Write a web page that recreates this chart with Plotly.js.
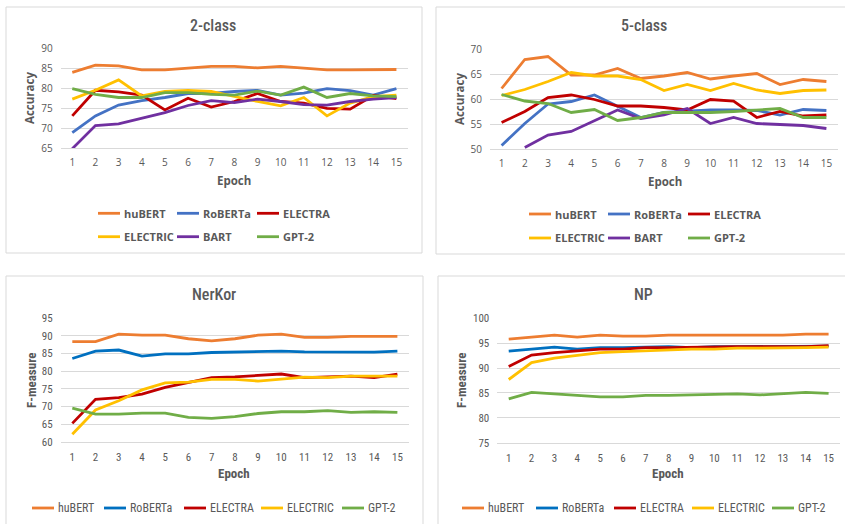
<!DOCTYPE html>
<html>
<head>
<meta charset="utf-8">
<script src="https://cdn.plot.ly/plotly-3.0.1.min.js"></script>
<style>
html,body{margin:0;padding:0;background:#fff;}
#chart{width:845px;height:524px;}
</style>
</head>
<body>
<div id="chart"></div>
<script>
// ---------- data ----------
const epochs = [1,2,3,4,5,6,7,8,9,10,11,12,13,14,15];
const models = ["huBERT","RoBERTa","ELECTRA","ELECTRIC","BART","GPT-2"];

// 2-class accuracy
const c2_huBERT   = [84.0,85.8,85.6,84.6,84.6,85.1,85.5,85.5,85.1,85.5,85.1,84.6,84.6,84.6,84.7];
const c2_RoBERTa  = [68.9,73.1,75.8,76.9,77.7,78.7,78.7,79.2,79.5,78.3,78.8,79.9,79.4,78.3,79.9];
const c2_ELECTRA  = [73.1,79.5,79.1,78.3,74.6,77.5,75.3,76.7,78.7,76.7,76.3,75.0,74.8,78.2,77.4];
const c2_ELECTRIC = [77.3,79.5,82.1,78.1,79.2,79.5,79.2,77.9,76.7,75.6,77.7,73.1,76.3,77.9,78.3];
const c2_BART     = [64.9,70.7,71.1,72.5,73.9,75.7,76.9,76.4,77.3,76.7,75.9,75.8,76.7,77.3,77.7];
const c2_GPT2     = [79.9,78.5,77.7,77.7,78.9,78.9,78.5,78.3,79.3,78.3,80.3,77.7,78.7,78.1,77.9];

// 5-class accuracy
const c5_huBERT   = [62.1,67.9,68.5,64.8,64.8,66.1,64.1,64.6,65.3,64.0,64.6,65.1,62.9,63.9,63.5];
const c5_RoBERTa  = [50.7,55.1,59.0,59.5,60.8,58.5,56.3,57.3,57.5,57.8,57.8,57.7,56.8,57.9,57.7];
const c5_ELECTRA  = [55.3,57.5,60.3,60.8,59.9,58.6,58.6,58.3,57.8,59.9,59.6,56.3,57.5,56.6,56.8];
const c5_ELECTRIC = [60.7,61.9,63.5,65.3,64.6,64.6,63.9,61.7,62.9,61.7,63.1,61.8,61.1,61.7,61.8];
const c5_BART     = [null,50.3,52.8,53.5,55.7,57.8,56.1,56.8,58.1,55.1,56.3,55.1,54.9,54.7,54.1];
const c5_GPT2     = [60.9,59.6,59.1,57.3,57.9,55.7,56.3,57.3,57.3,57.3,57.5,57.8,58.1,56.3,56.3];

// NerKor F-measure
const nk_huBERT   = [88.4,88.4,90.5,90.2,90.2,89.2,88.6,89.2,90.2,90.5,89.6,89.6,89.9,89.9,89.9];
const nk_RoBERTa  = [83.6,85.7,86.0,84.3,84.9,84.9,85.3,85.4,85.7,85.7,85.5,85.5,85.3,85.4,85.7];
const nk_ELECTRA  = [65.2,72.0,72.5,73.5,75.4,76.9,78.2,78.4,78.8,79.2,78.2,78.4,78.6,78.2,79.2];
const nk_ELECTRIC = [62.1,69.0,71.6,74.7,76.7,76.9,77.7,77.7,77.2,77.7,78.3,78.2,78.6,78.6,78.6];
const nk_GPT2     = [69.5,67.8,67.8,68.1,68.1,66.9,66.6,67.1,68.0,68.5,68.5,68.8,68.3,68.5,68.3];

// NP F-measure
const np_huBERT   = [95.8,96.2,96.6,96.2,96.6,96.4,96.4,96.6,96.6,96.6,96.6,96.6,96.6,96.8,96.8];
const np_RoBERTa  = [93.4,93.8,94.2,93.8,94.1,94.1,94.2,94.3,94.1,94.3,94.3,94.3,94.3,94.3,94.4];
const np_ELECTRA  = [90.3,92.6,93.1,93.5,93.8,93.8,94.1,94.1,94.2,94.2,94.3,94.3,94.3,94.3,94.5];
const np_ELECTRIC = [87.7,91.1,92.0,92.5,93.1,93.3,93.5,93.6,93.8,93.8,94.0,94.0,94.0,94.1,94.2];
const np_GPT2     = [83.8,85.1,84.8,84.5,84.2,84.2,84.5,84.5,84.6,84.8,84.8,84.6,84.9,85.1,84.9];

const panelTitles = ["2-class","5-class","NerKor","NP"];
const yTitles = ["Accuracy","Accuracy","F-measure","F-measure"];
const xTitle = "Epoch";

// ---------- styling ----------
const W = 845, H = 524;
const colTop = {"huBERT":"#ED7D31","RoBERTa":"#4472C4","ELECTRA":"#C00000","ELECTRIC":"#FFC000","BART":"#7030A0","GPT-2":"#70AD47"};
const colBot = {"huBERT":"#ED7D31","RoBERTa":"#0070C0","ELECTRA":"#C00000","ELECTRIC":"#FFC000","GPT-2":"#70AD47"};
const TXT = "#595959", GRID = "#D9D9D9";
const NARROW = "'Liberation Sans Narrow', 'Roboto Condensed', Roboto, sans-serif";
const WIDE = "'Open Sans', 'DejaVu Sans', sans-serif";

const px = x => x / W;
const py = y => 1 - y / H;

// panels: pixel boxes of plot areas
const panels = [
  {x0:60.7, x1:408,  y0:48.3,  y1:148.3, range:[65,90],  series:[c2_huBERT,c2_RoBERTa,c2_ELECTRA,c2_ELECTRIC,c2_BART,c2_GPT2], names:models, cols:colTop},
  {x0:490,  x1:838,  y0:49,    y1:149,   range:[50,70],  series:[c5_huBERT,c5_RoBERTa,c5_ELECTRA,c5_ELECTRIC,c5_BART,c5_GPT2], names:models, cols:colTop},
  {x0:60.7, x1:409,  y0:318.3, y1:441.7, range:[60,95],  series:[nk_huBERT,nk_RoBERTa,nk_ELECTRA,nk_ELECTRIC,nk_GPT2], names:["huBERT","RoBERTa","ELECTRA","ELECTRIC","GPT-2"], cols:colBot},
  {x0:497.3,x1:840,  y0:318.3, y1:442.7, range:[75,100], series:[np_huBERT,np_RoBERTa,np_ELECTRA,np_ELECTRIC,np_GPT2], names:["huBERT","RoBERTa","ELECTRA","ELECTRIC","GPT-2"], cols:colBot}
];

const traces = [];
const layout = {
  width: W, height: H,
  margin: {l:0, r:0, t:0, b:0},
  paper_bgcolor: "#fff", plot_bgcolor: "#fff",
  showlegend: false,
  shapes: [], annotations: []
};

panels.forEach((p, i) => {
  const k = i === 0 ? "" : String(i + 1);
  const top = i < 2;
  const tickFont = {family: top ? WIDE : NARROW, size: top ? 10 : 11, color: TXT};
  layout["xaxis" + k] = {
    domain: [px(p.x0), px(p.x1)], anchor: "y" + k,
    range: [0.5, 15.5], tickmode: "array", tickvals: epochs, ticktext: epochs.map(String),
    showgrid: false, zeroline: false, showline: true, linecolor: GRID, linewidth: 1,
    ticks: "", ticklabelstandoff: 5, tickfont: tickFont, fixedrange: true
  };
  layout["yaxis" + k] = {
    domain: [py(p.y1), py(p.y0)], anchor: "x" + k,
    range: p.range, dtick: 5, tick0: 0,
    showgrid: true, gridcolor: GRID, gridwidth: 1, zeroline: false, showline: false,
    ticks: "", ticklabelstandoff: 7, tickfont: tickFont, fixedrange: true
  };
  p.series.forEach((s, j) => {
    traces.push({
      type: "scatter", mode: "lines", x: epochs, y: s, name: p.names[j],
      xaxis: "x" + k, yaxis: "y" + k,
      line: {color: p.cols[p.names[j]], width: 2.8}, connectgaps: false,
      hoverinfo: "x+y+name"
    });
  });
});

// panel frames
const frames = [[6,7,422,253],[436,7,850,254],[6,276,423,530],[438,276,850,530]];
frames.forEach(f => {
  layout.shapes.push({type:"rect", xref:"paper", yref:"paper", x0:px(f[0]), x1:px(f[2]), y0:py(f[3]), y1:py(f[1]),
    line:{color:"#D9D9D9", width:1}, fillcolor:"rgba(0,0,0,0)", layer:"below"});
});

function ann(text, x, y, font, extra) {
  layout.annotations.push(Object.assign({text:text, x:px(x), y:py(y), xref:"paper", yref:"paper",
    showarrow:false, xanchor:"center", yanchor:"middle", font:font}, extra || {}));
}

// titles
const titlePos = [[213,25],[644,25],[214,294],[643,294]];
panelTitles.forEach((t, i) => ann(t, titlePos[i][0], titlePos[i][1], {family:NARROW, size:16, color:TXT, weight:500}));

// axis titles
const yTitlePos = [[29,98],[459,99],[31,380],[461,380]];
yTitles.forEach((t, i) => ann("<b>" + t + "</b>", yTitlePos[i][0], yTitlePos[i][1],
  {family: i < 2 ? WIDE : NARROW, size: i < 2 ? 11.5 : 13, color:TXT}, {textangle:-90}));
const xTitlePos = [[234,180],[665,181],[234,473],[668,473]];
xTitlePos.forEach((pp, i) => ann("<b>" + xTitle + "</b>", pp[0], pp[1],
  {family: i < 2 ? WIDE : NARROW, size: i < 2 ? 11.5 : 13, color:TXT}));

// legends (line sample + label)
function legendItem(name, color, lx, ly, lineLen, font) {
  layout.shapes.push({type:"line", xref:"paper", yref:"paper", x0:px(lx), x1:px(lx + lineLen), y0:py(ly), y1:py(ly),
    line:{color:color, width:2.8}});
  ann(name, lx + lineLen + 2, ly, font, {xanchor:"left"});
}
const legTopFont = {family:WIDE, size:11, color:TXT};
const topRows = [["huBERT","RoBERTa","ELECTRA"],["ELECTRIC","BART","GPT-2"]];
const topXL = [98,177,257], topXR = [529,608,688];
topRows.forEach((row, r) => row.forEach((n, c) => {
  legendItem("<b>" + n + "</b>", colTop[n], topXL[c], r === 0 ? 213.3 : 236.7, 22, legTopFont);
  legendItem("<b>" + n + "</b>", colTop[n], topXR[c], r === 0 ? 214 : 238, 22, legTopFont);
}));
const botNames = ["huBERT","RoBERTa","ELECTRA","ELECTRIC","GPT-2"];
const botXL = [32,104,184,261,342], botXR = [462,536,614,692,772];
const legBotFont = {family:NARROW, size:12, color:TXT};
botNames.forEach((n, c) => {
  legendItem(n, colBot[n], botXL[c], 508, 22, legBotFont);
  legendItem(n, colBot[n], botXR[c], 508, 22, legBotFont);
});

Plotly.newPlot("chart", traces, layout, {displayModeBar:false, staticPlot:true});
</script>
</body>
</html>
